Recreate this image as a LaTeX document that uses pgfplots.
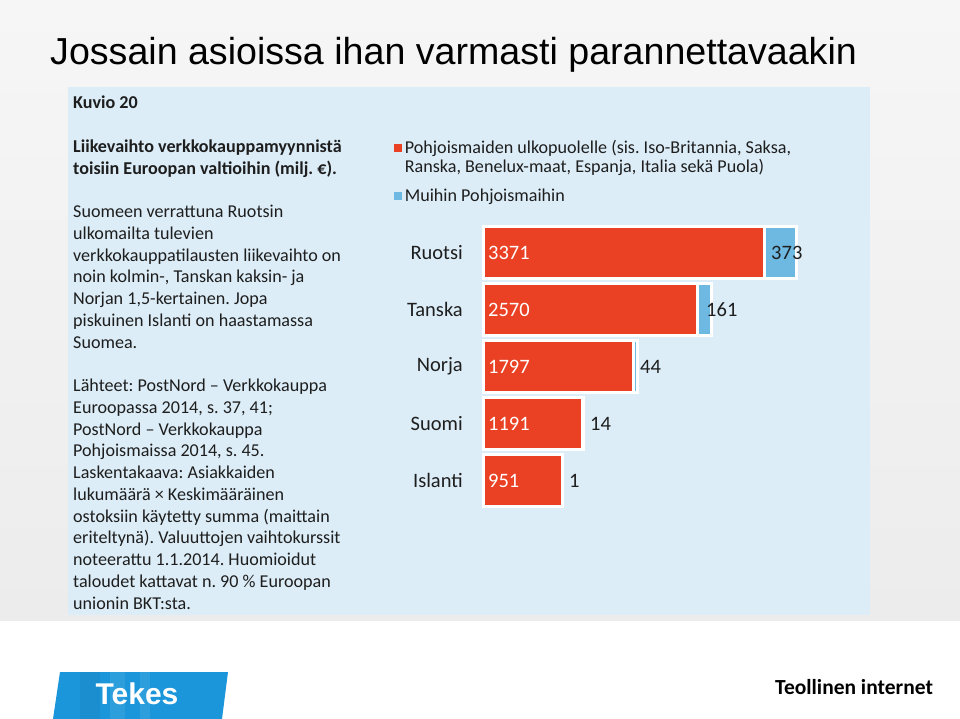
\documentclass[border=0pt]{standalone}
\usepackage{fontspec}
\usepackage{pgfplots}
\pgfplotsset{compat=1.18}
\usepackage{pgfplotstable}
\setmainfont{Carlito}
\newfontfamily\arialf{Liberation Sans}
\definecolor{barred}{RGB}{234,64,36}
\definecolor{barblue}{RGB}{110,185,225}
\definecolor{panel}{RGB}{220,237,247}
\definecolor{txt}{RGB}{30,30,30}
\definecolor{tekes}{RGB}{28,150,218}
\definecolor{bgtop}{RGB}{246,246,246}
\definecolor{bgbot}{RGB}{236,236,236}
\frenchspacing
\newcommand\bodyfont{\fontsize{18.1}{21.74}\selectfont}
\newcommand\lblfont{\fontsize{20.5}{24}\selectfont}
\newcommand\tl[2]{\node[anchor=base west, inner sep=0pt, text=txt, font=\bodyfont] at (73pt,#1pt) {#2};}
\newcommand\tlb[2]{\node[anchor=base west, inner sep=0pt, text=txt, font=\bodyfont\bfseries] at (73pt,#1pt) {#2};}

\pgfplotstableread{
y red blue
4 3371 373
3 2570 161
2 1797 44
1 1191 14
0 951 1
}\data

\begin{document}
\begin{tikzpicture}
\fill[white] (0pt,0pt) rectangle (960pt,719pt);
\shade[top color=bgtop, bottom color=bgbot] (0pt,98pt) rectangle (960pt,719pt);
\fill[panel] (68pt,104pt) rectangle (870pt,632pt);

% title
\node[anchor=base west, inner sep=0pt, font=\arialf\fontsize{37.6}{42}\selectfont] at (50pt,654pt) {Jossain asioissa ihan varmasti parannettavaakin};

% left text
\tlb{610.00}{Kuvio 20}
\tlb{566.52}{Liikevaihto verkkokauppamyynnistä}
\tlb{544.78}{toisiin Euroopan valtioihin (milj. €).}
\tl{501.30}{Suomeen verrattuna Ruotsin}
\tl{479.56}{ulkomailta tulevien}
\tl{457.82}{verkkokauppatilausten liikevaihto on}
\tl{436.08}{noin kolmin-, Tanskan kaksin- ja}
\tl{414.34}{Norjan 1,5-kertainen. Jopa}
\tl{392.60}{piskuinen Islanti on haastamassa}
\tl{370.86}{Suomea.}
\tl{327.38}{Lähteet: PostNord – Verkkokauppa}
\tl{305.64}{Euroopassa 2014, s. 37, 41;}
\tl{283.90}{PostNord – Verkkokauppa}
\tl{262.16}{Pohjoismaissa 2014, s. 45.}
\tl{240.42}{Laskentakaava: Asiakkaiden}
\tl{218.68}{lukumäärä × Keskimääräinen}
\tl{196.94}{ostoksiin käytetty summa (maittain}
\tl{175.20}{eriteltynä). Valuuttojen vaihtokurssit}
\tl{153.46}{noteerattu 1.1.2014. Huomioidut}
\tl{131.72}{taloudet kattavat n. 90 \% Euroopan}
\tl{109.98}{unionin BKT:sta.}

\begin{axis}[
  at={(483pt,210pt)}, anchor=south west, scale only axis,
  width=334.6pt, height=285pt,
  xbar stacked, bar width=52pt,
  xmin=0, xmax=4000, ymin=-0.5, ymax=4.5,
  axis line style={draw=none}, xtick=\empty,
  ytick={0,1,2,3,4}, yticklabels={Islanti,Suomi,Norja,Tanska,Ruotsi},
  major tick length=0pt,
  yticklabel style={font=\lblfont, text=txt, anchor=east, inner sep=0pt, xshift=-20pt},
  clip=false,
  legend style={at={(axis description cs:-0.267,1.2955)}, anchor=north west, draw=none, fill=none,
    inner sep=0pt, row sep=0pt, font=\bodyfont, text=txt,
    nodes={inner ysep=0pt, inner xsep=3pt, text depth=, text height=}, cells={anchor=base west},
    /tikz/every even column/.append style={column sep=5pt}},
  legend image code/.code={\fill[draw=none] (0pt,1pt) rectangle (8pt,9pt);},
]
\addplot[fill=barred, draw=white, line width=3pt] table[x=red, y=y] {\data};
\addlegendentry{\rule[-6pt]{0pt}{16pt}Pohjoismaiden ulkopuolelle (sis. Iso-Britannia, Saksa,}
\addlegendimage{empty legend}
\addlegendentry{\rule[-16pt]{0pt}{16pt}Ranska, Benelux-maat, Espanja, Italia sekä Puola)}
\addplot[fill=barblue, draw=white, line width=3pt] table[x=blue, y=y] {\data};
\addlegendentry{\rule[-6pt]{0pt}{16pt}Muihin Pohjoismaihin}

\coordinate (r4) at (axis cs:0,4);
\coordinate (r3) at (axis cs:0,3);
\coordinate (r2) at (axis cs:0,2);
\coordinate (r1) at (axis cs:0,1);
\coordinate (r0) at (axis cs:0,0);
\coordinate (b4) at (axis cs:3443,4);
\coordinate (b3) at (axis cs:2666,3);
\coordinate (b2) at (axis cs:1877,2);
\coordinate (b1) at (axis cs:1279,1);
\coordinate (b0) at (axis cs:1028,0);
\end{axis}

\begin{scope}[every node/.style={anchor=west, inner sep=0pt, font=\lblfont}]
\node[text=white, xshift=5pt] at (r4) {3371};
\node[text=white, xshift=5pt] at (r3) {2570};
\node[text=white, xshift=5pt] at (r2) {1797};
\node[text=white, xshift=5pt] at (r1) {1191};
\node[text=white, xshift=5pt] at (r0) {951};
\node[text=txt] at (b4) {373};
\node[text=txt] at (b3) {161};
\node[text=txt] at (b2) {44};
\node[text=txt] at (b1) {14};
\node[text=txt] at (b0) {1};
\end{scope}

% logos
\begin{scope}
\clip (60pt,47pt) -- (228pt,47pt) -- (222pt,0pt) -- (53pt,0pt) -- cycle;
\fill[tekes] (50pt,0pt) rectangle (230pt,47pt);
\fill[white, opacity=0.08] (110pt,0pt) rectangle (125pt,47pt);
\fill[white, opacity=0.08] (140pt,0pt) rectangle (150pt,47pt);
\fill[black, opacity=0.05] (80pt,0pt) rectangle (100pt,47pt);
\end{scope}
\node[anchor=base, inner sep=0pt, text=white, font=\arialf\bfseries\fontsize{30}{34}\selectfont] at (137pt,14pt) {Tekes};
\node[anchor=base west, inner sep=0pt, text=black, font=\bfseries\fontsize{21.5}{24}\selectfont] at (775pt,24pt) {Teollinen internet};
\end{tikzpicture}
\end{document}
